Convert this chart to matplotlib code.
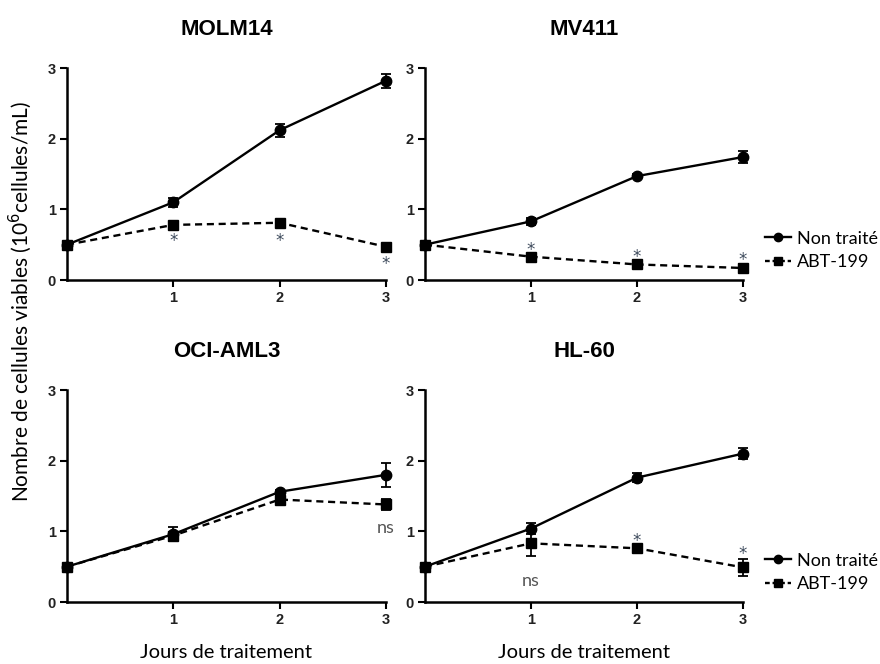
import matplotlib
matplotlib.use("Agg")
import matplotlib.pyplot as plt
from matplotlib.lines import Line2D

days = [0, 1, 2, 3]
panels = ["MOLM14", "MV411", "OCI-AML3", "HL-60"]

molm14_ctrl = [0.5, 1.10, 2.12, 2.82]
molm14_ctrl_err = [0.02, 0.06, 0.09, 0.10]
molm14_abt = [0.5, 0.78, 0.81, 0.47]
molm14_abt_err = [0.02, 0.03, 0.03, 0.03]

mv411_ctrl = [0.5, 0.83, 1.47, 1.74]
mv411_ctrl_err = [0.02, 0.05, 0.03, 0.08]
mv411_abt = [0.5, 0.33, 0.22, 0.17]
mv411_abt_err = [0.02, 0.03, 0.03, 0.05]

oci_ctrl = [0.5, 0.96, 1.56, 1.80]
oci_ctrl_err = [0.02, 0.10, 0.03, 0.17]
oci_abt = [0.5, 0.94, 1.45, 1.38]
oci_abt_err = [0.02, 0.05, 0.05, 0.08]

hl60_ctrl = [0.5, 1.04, 1.76, 2.10]
hl60_ctrl_err = [0.02, 0.08, 0.06, 0.08]
hl60_abt = [0.5, 0.83, 0.76, 0.49]
hl60_abt_err = [0.02, 0.18, 0.02, 0.12]

# significance labels: (day, y position, text)
molm14_sig = [(1, 0.55, "*"), (2, 0.55, "*"), (3, 0.22, "*")]
mv411_sig = [(1, 0.42, "*"), (2, 0.32, "*"), (3, 0.29, "*")]
oci_sig = [(3, 1.05, "ns")]
hl60_sig = [(1, 0.30, "ns"), (2, 0.86, "*"), (3, 0.68, "*")]

yticks = [0, 1, 2, 3]
xticks = [1, 2, 3]

data = [
    (molm14_ctrl, molm14_ctrl_err, molm14_abt, molm14_abt_err, molm14_sig),
    (mv411_ctrl, mv411_ctrl_err, mv411_abt, mv411_abt_err, mv411_sig),
    (oci_ctrl, oci_ctrl_err, oci_abt, oci_abt_err, oci_sig),
    (hl60_ctrl, hl60_ctrl_err, hl60_abt, hl60_abt_err, hl60_sig),
]

W, H = 880, 664
fig = plt.figure(figsize=(8.8, 6.64), dpi=100)

rects_px = [
    (67, 68, 386, 280),
    (425, 68, 743, 280),
    (67, 390, 386, 602),
    (425, 390, 743, 602),
]

label_font = "Lato"
ann_color = "#3d4a5c"

for i, (rect, name, (c, ce, a, ae, sig)) in enumerate(zip(rects_px, panels, data)):
    l, t, r, b = rect
    ax = fig.add_axes([l / W, 1 - b / H, (r - l) / W, (b - t) / H])
    ax.errorbar(days, a, yerr=ae, fmt="s", ls=(0, (3, 2)), color="black", lw=1.7,
                ms=7.5, capsize=3.5, elinewidth=1.3, capthick=1.3, clip_on=False, zorder=3)
    ax.errorbar(days, c, yerr=ce, fmt="o", ls="-", color="black", lw=1.7,
                ms=7.5, capsize=3.5, elinewidth=1.3, capthick=1.3, clip_on=False, zorder=4)
    for d, yy, txt in sig:
        if txt == "*":
            ax.text(d, yy, txt, ha="center", va="center", fontsize=12, color=ann_color,
                    family="DejaVu Sans")
        else:
            ax.text(d, yy, txt, ha="center", va="center", fontsize=13, color="#555555",
                    family=label_font)
    ax.set_xlim(0, 3)
    ax.set_ylim(0, 3)
    ax.set_xticks(xticks)
    ax.set_yticks(yticks)
    ax.spines["top"].set_visible(False)
    ax.spines["right"].set_visible(False)
    for s in ("left", "bottom"):
        ax.spines[s].set_linewidth(1.8)
    ax.tick_params(width=1.5, length=5, direction="out", labelsize=10.5, pad=3)
    for lab in ax.get_xticklabels() + ax.get_yticklabels():
        lab.set_fontweight("bold")
        lab.set_family("Liberation Sans")
        lab.set_color("#222222")
    ax.set_title(name, fontsize=16, fontweight="bold", family="Liberation Sans", pad=24)
    if i >= 2:
        ax.set_xlabel("Jours de traitement", fontsize=14.5, family=label_font, labelpad=12)
    if i in (1, 3):
        handles = [
            Line2D([], [], color="black", marker="o", ls="-", lw=1.7, ms=6),
            Line2D([], [], color="black", marker="s", ls=(0, (2, 1.2)), lw=1.7, ms=6),
        ]
        ax.legend(handles, ["Non traité", "ABT-199"], loc="center left",
                  bbox_to_anchor=(1.069, 0.14), bbox_transform=ax.transAxes,
                  frameon=False, handlelength=1.45, borderaxespad=0,
                  handletextpad=0.3, labelspacing=0.4, borderpad=0,
                  prop={"family": label_font, "size": 13})

fig.text(20 / W, 1 - 302 / H, "Nombre de cellules viables (10$^{6}$cellules/mL)",
         rotation=90, ha="center", va="center", fontsize=15, family=label_font)

fig.savefig("out.png", dpi=100)
